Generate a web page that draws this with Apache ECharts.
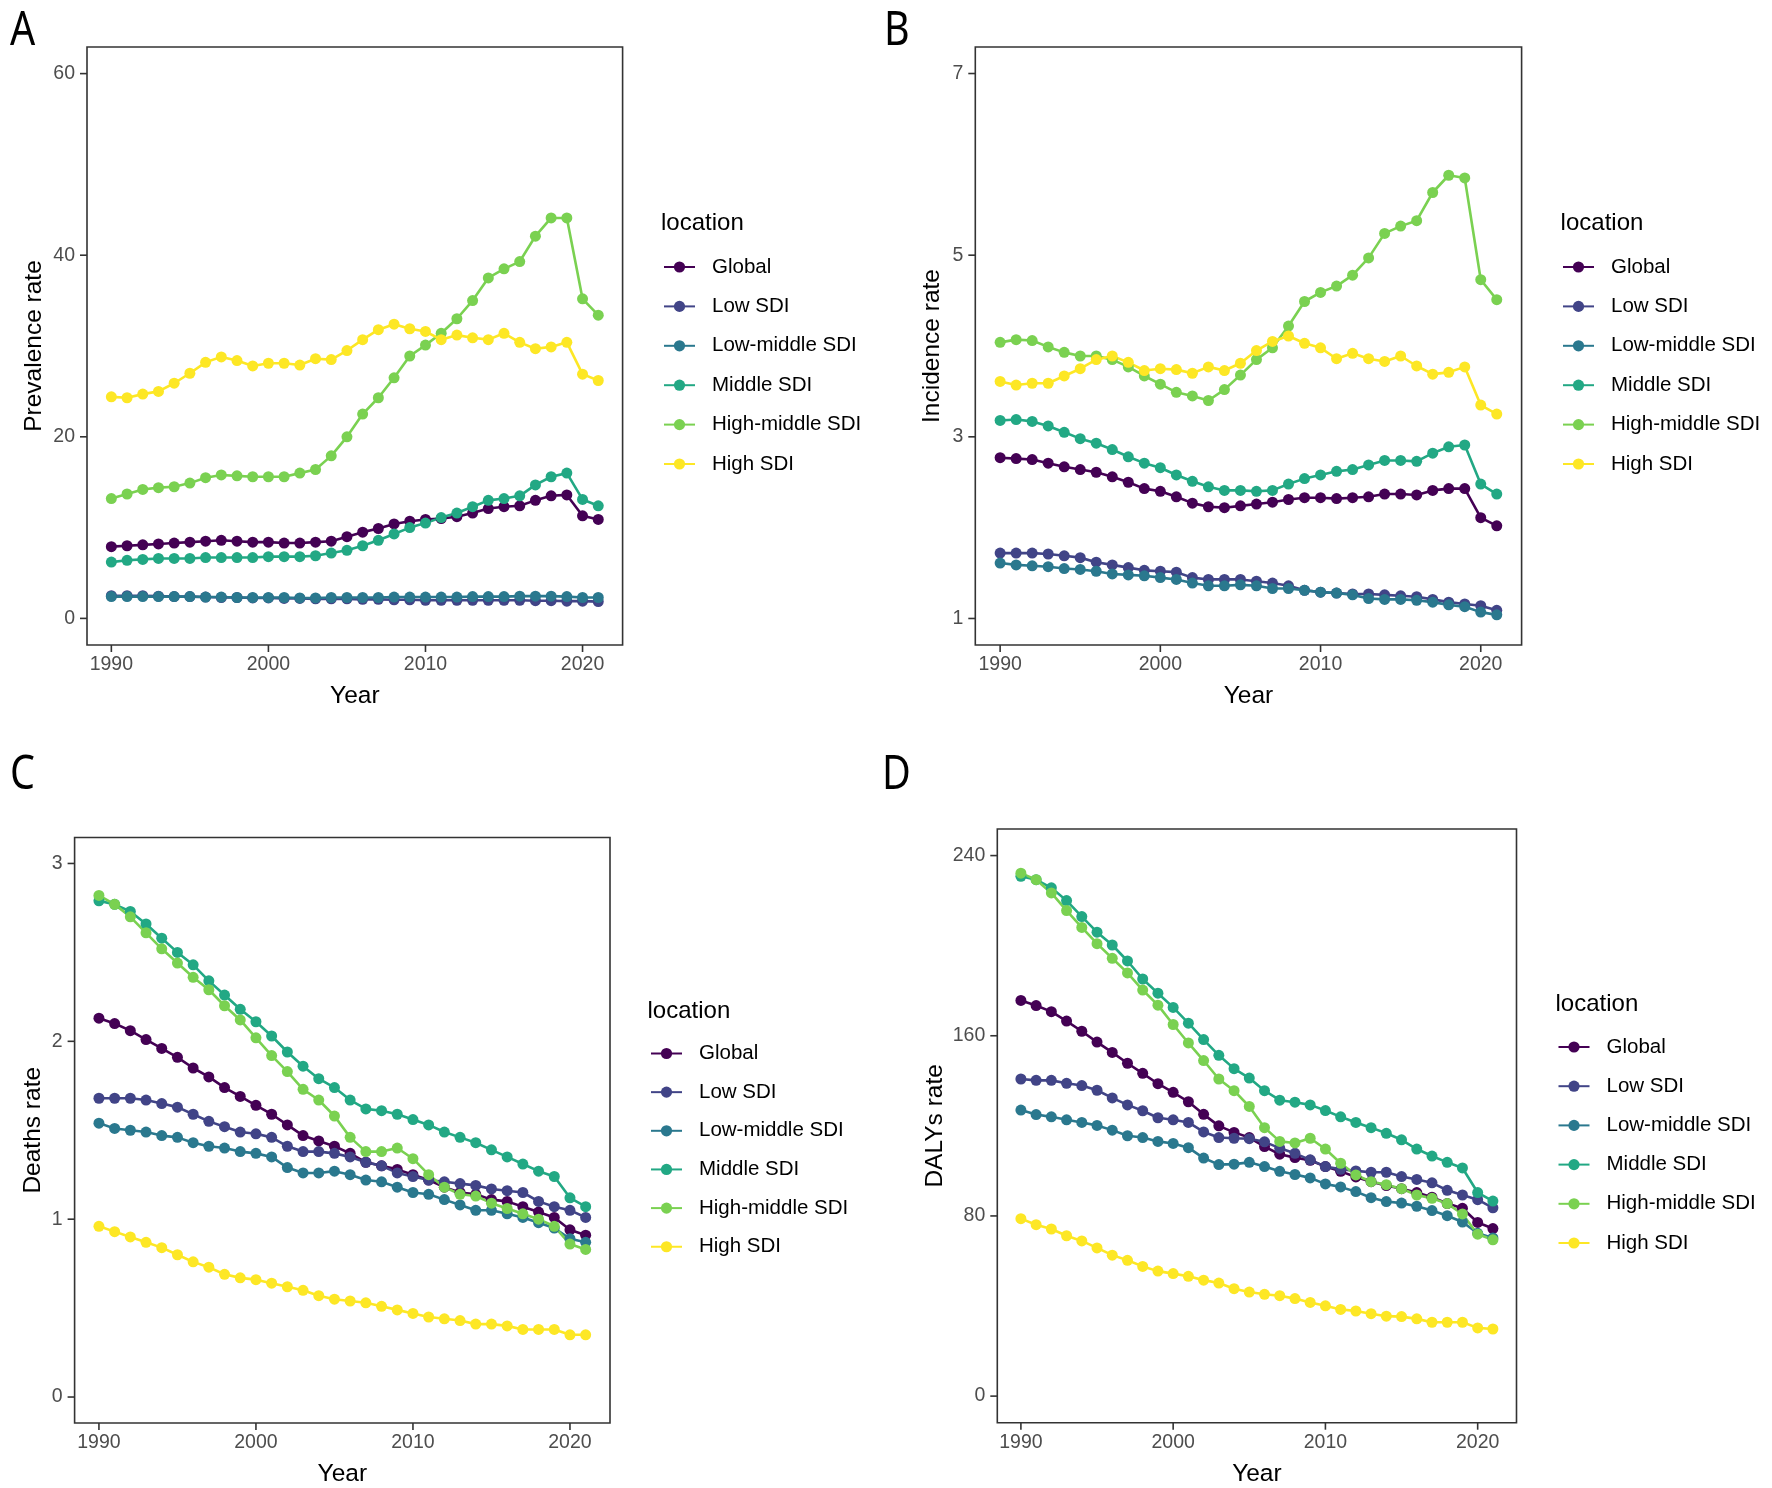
<!DOCTYPE html>
<html><head><meta charset="utf-8">
<style>html,body{margin:0;padding:0;background:#fff}#c{width:1772px;height:1488px}</style>
<script src="https://cdn.jsdelivr.net/npm/echarts@6/dist/echarts.min.js"></script>
</head><body><div id="c"></div>
<script>
const years=[1990,1991,1992,1993,1994,1995,1996,1997,1998,1999,2000,2001,2002,2003,2004,2005,2006,2007,2008,2009,2010,2011,2012,2013,2014,2015,2016,2017,2018,2019,2020,2021];
const locations=["Global","Low SDI","Low-middle SDI","Middle SDI","High-middle SDI","High SDI"];
const xTicks=[1990,2000,2010,2020];

const prevGlobal=[7.9,8.0,8.1,8.2,8.3,8.4,8.5,8.6,8.5,8.4,8.4,8.3,8.3,8.4,8.5,9.0,9.5,9.9,10.4,10.7,10.9,11.0,11.2,11.6,12.1,12.3,12.4,13.0,13.5,13.6,11.3,10.9];
const prevLow=[2.5,2.5,2.5,2.45,2.4,2.4,2.35,2.3,2.3,2.25,2.25,2.2,2.2,2.15,2.15,2.15,2.1,2.1,2.05,2.05,2.0,2.0,2.0,2.0,2.0,2.0,2.0,1.95,1.95,1.9,1.9,1.85];
const prevLowMid=[2.4,2.4,2.4,2.4,2.4,2.4,2.35,2.35,2.3,2.3,2.3,2.3,2.25,2.25,2.3,2.3,2.3,2.3,2.35,2.35,2.35,2.35,2.35,2.4,2.4,2.4,2.45,2.45,2.45,2.4,2.3,2.3];
const prevMid=[6.2,6.4,6.5,6.6,6.6,6.6,6.7,6.7,6.7,6.7,6.8,6.8,6.8,6.9,7.2,7.5,8.0,8.6,9.3,10.0,10.5,11.1,11.6,12.3,13.0,13.2,13.5,14.7,15.6,16.0,13.1,12.4];
const prevHighMid=[13.2,13.7,14.2,14.4,14.5,14.9,15.5,15.8,15.7,15.6,15.6,15.6,16.0,16.4,17.9,20.0,22.5,24.3,26.5,28.9,30.1,31.4,33.0,35.0,37.5,38.5,39.3,42.1,44.1,44.1,35.2,33.4];
const prevHigh=[24.4,24.3,24.7,25.0,25.9,27.0,28.2,28.8,28.4,27.8,28.1,28.1,27.9,28.6,28.5,29.5,30.7,31.8,32.4,31.9,31.6,30.7,31.2,30.9,30.7,31.4,30.4,29.7,29.9,30.4,26.9,26.2];

const incGlobal=[2.77,2.76,2.75,2.71,2.67,2.64,2.61,2.56,2.50,2.43,2.40,2.34,2.27,2.23,2.22,2.24,2.26,2.28,2.31,2.33,2.33,2.32,2.33,2.34,2.37,2.37,2.36,2.41,2.43,2.43,2.11,2.02];
const incLow=[1.72,1.72,1.72,1.71,1.69,1.67,1.62,1.59,1.56,1.53,1.52,1.51,1.45,1.43,1.43,1.43,1.41,1.39,1.36,1.31,1.29,1.28,1.27,1.27,1.26,1.25,1.24,1.21,1.18,1.16,1.14,1.09];
const incLowMid=[1.61,1.59,1.58,1.57,1.55,1.54,1.52,1.49,1.48,1.47,1.45,1.43,1.39,1.36,1.36,1.37,1.36,1.33,1.33,1.31,1.29,1.28,1.26,1.22,1.21,1.21,1.20,1.18,1.15,1.13,1.07,1.04];
const incMid=[3.18,3.19,3.17,3.12,3.05,2.98,2.93,2.86,2.78,2.71,2.66,2.58,2.51,2.45,2.41,2.41,2.40,2.41,2.48,2.54,2.58,2.62,2.64,2.69,2.74,2.74,2.73,2.82,2.89,2.91,2.48,2.37];
const incHighMid=[4.04,4.07,4.06,3.99,3.93,3.89,3.89,3.85,3.77,3.67,3.58,3.49,3.45,3.40,3.52,3.68,3.85,3.98,4.22,4.49,4.59,4.66,4.78,4.97,5.24,5.32,5.38,5.69,5.88,5.85,4.73,4.51];
const incHigh=[3.61,3.57,3.59,3.59,3.67,3.75,3.85,3.89,3.82,3.73,3.75,3.74,3.70,3.77,3.73,3.81,3.95,4.05,4.11,4.03,3.98,3.86,3.92,3.86,3.83,3.89,3.78,3.69,3.71,3.77,3.35,3.25];

const deathGlobal=[2.13,2.10,2.06,2.01,1.96,1.91,1.85,1.80,1.74,1.69,1.64,1.59,1.53,1.47,1.44,1.41,1.37,1.32,1.30,1.28,1.25,1.22,1.18,1.15,1.14,1.11,1.10,1.07,1.04,1.01,0.94,0.91];
const deathLow=[1.68,1.68,1.68,1.67,1.65,1.63,1.59,1.55,1.52,1.49,1.48,1.46,1.41,1.38,1.38,1.37,1.35,1.32,1.30,1.26,1.24,1.22,1.21,1.20,1.19,1.17,1.16,1.15,1.10,1.07,1.05,1.01];
const deathLowMid=[1.54,1.51,1.50,1.49,1.47,1.46,1.43,1.41,1.40,1.38,1.37,1.35,1.29,1.26,1.26,1.27,1.25,1.22,1.21,1.18,1.15,1.14,1.11,1.08,1.05,1.05,1.03,1.01,0.98,0.95,0.89,0.87];
const deathMid=[2.79,2.77,2.73,2.66,2.58,2.50,2.43,2.34,2.26,2.18,2.11,2.03,1.94,1.86,1.79,1.74,1.67,1.62,1.61,1.59,1.56,1.53,1.49,1.46,1.43,1.39,1.35,1.31,1.27,1.24,1.12,1.07];
const deathHighMid=[2.82,2.77,2.70,2.61,2.52,2.44,2.36,2.29,2.20,2.12,2.02,1.92,1.83,1.73,1.67,1.58,1.46,1.38,1.38,1.40,1.34,1.25,1.18,1.14,1.13,1.09,1.06,1.03,1.00,0.96,0.86,0.83];
const deathHigh=[0.96,0.93,0.90,0.87,0.84,0.80,0.76,0.73,0.69,0.67,0.66,0.64,0.62,0.60,0.57,0.55,0.54,0.53,0.51,0.49,0.47,0.45,0.44,0.43,0.41,0.41,0.40,0.38,0.38,0.38,0.35,0.35];

const dalyGlobal=[175.7,173.4,170.7,166.5,162,157.2,152.6,147.8,143.3,138.7,134.9,130.7,125.1,120,117.1,114.8,110.8,107.4,105.9,104.7,101.9,99.8,97.3,95.2,93.5,92.1,90.4,88.3,85.5,83.4,77.1,74.4];
const dalyLow=[140.8,140.2,140.2,138.9,137.9,135.8,132.4,129.3,126.7,123.6,122.7,121.5,117.3,114.8,114.5,114.3,112.9,110.1,107.8,104.9,101.9,100.7,100,99.4,99.4,97.5,96.2,94.7,91.4,89.3,87.2,83.6];
const dalyLowMid=[127,125,124,122.7,121.5,120.2,118.1,115.6,114.8,113.1,112.2,110.3,105.7,102.8,103,103.8,101.9,99.8,98.4,96.9,94.2,92.9,90.8,88.1,86.4,85.7,84.3,82.4,80.1,77.3,72.3,70.2];
const dalyMid=[230.8,229.3,225.7,220,212.9,206,200.3,193.2,185.2,178.9,172.6,165.6,158.3,151.3,145.4,141.2,135.6,131.4,130.5,129.3,126.8,124,121.5,119.2,116.7,113.8,109.7,106.6,103.8,101.3,90.4,86.6];
const dalyHighMid=[232.2,229.3,223.4,215.6,208.1,200.9,194.4,187.9,180.3,173.6,165,156.8,149,140.8,135.6,128.6,119.2,113.1,112.4,114.5,109.7,103.4,98.2,95.2,93.9,92.1,89.3,87.8,85.5,80.9,71.9,69.4];
const dalyHigh=[78.8,76.1,74.2,71.2,68.9,65.8,62.6,60.3,57.6,55.5,54.4,53.2,51.5,50.2,47.7,46.2,45.2,44.6,43.3,41.6,40.1,38.5,37.8,36.6,35.5,35.3,34.3,32.8,32.8,32.8,30.3,29.8];

const colors=["#440154","#414487","#2A788E","#22A884","#7AD151","#FDE725"];
const FONT="Liberation Sans";
const panels=[
 {letter:"A",lx:10,ly:13,yName:"Prevalence rate",ticks:[0,20,40,60],ymin:-2.93,ymax:62.93,series:[prevGlobal,prevLow,prevLowMid,prevMid,prevHighMid,prevHigh],
  box:[87,622.6,47,645],ttl:[661,223],leg:[663,267],gap:39.4,nameGap:40},
 {letter:"B",lx:884,ly:13,yName:"Incidence rate",ticks:[1,3,5,7],ymin:0.708,ymax:7.292,series:[incGlobal,incLow,incLowMid,incMid,incHighMid,incHigh],
  box:[975.3,1521.6,47,645],ttl:[1560.6,223],leg:[1562,267],gap:39.4,nameGap:31},
 {letter:"C",lx:10,ly:757,yName:"Deaths rate",ticks:[0,1,2,3],ymin:-0.146,ymax:3.146,series:[deathGlobal,deathLow,deathLowMid,deathMid,deathHighMid,deathHigh],
  box:[74.6,610,837.5,1424],ttl:[647.5,1011],leg:[650,1053.5],gap:38.65,nameGap:29},
 {letter:"D",lx:882,ly:757,yName:"DALYs rate",ticks:[0,80,160,240],ymin:-11.8,ymax:251.8,series:[dalyGlobal,dalyLow,dalyLowMid,dalyMid,dalyHighMid,dalyHigh],
  box:[997.3,1516.5,829,1422.7],ttl:[1555.5,1004],leg:[1557.5,1047],gap:39.2,nameGap:50}
];

const option={animation:false,backgroundColor:"#fff",color:colors,grid:[],xAxis:[],yAxis:[],series:[],legend:[],title:[],graphic:[]};
const tickMark=(i,data,size,offset)=>({type:"scatter",xAxisIndex:i,yAxisIndex:i,data,symbol:"rect",symbolSize:size,symbolOffset:offset,clip:false,silent:true,
  itemStyle:{color:"#333333",opacity:1},emphasis:{disabled:true},tooltip:{show:false}});
const XMIN=1988.45,XMAX=2022.55;
panels.forEach((p,i)=>{
  const [l,r,t,b]=p.box;
  option.grid.push({left:l,top:t,width:r-l,height:b-t,containLabel:false,show:true,borderColor:"#333333",borderWidth:1.6});
  option.xAxis.push({type:"value",gridIndex:i,position:"bottom",min:XMIN,max:XMAX,name:"Year",nameLocation:"middle",nameGap:39,
    nameTextStyle:{fontFamily:FONT,fontSize:24.5,color:"#000"},
    axisLine:{show:false,onZero:false},splitLine:{show:false},axisTick:{show:false},
    axisLabel:{show:true,customValues:xTicks,fontFamily:FONT,fontSize:19.5,color:"#4d4d4d",margin:10,formatter:v=>String(v)}});
  option.yAxis.push({type:"value",gridIndex:i,position:"left",min:p.ymin,max:p.ymax,name:p.yName,nameLocation:"middle",nameGap:p.nameGap,
    nameTextStyle:{fontFamily:FONT,fontSize:24.5,color:"#000"},
    axisLine:{show:false,onZero:false},splitLine:{show:false},axisTick:{show:false},
    axisLabel:{show:true,customValues:p.ticks,fontFamily:FONT,fontSize:19.5,color:"#4d4d4d",margin:12,padding:[4,0,0,0],formatter:v=>String(v)}});
  locations.forEach((name,k)=>{
    option.series.push({type:"line",name,xAxisIndex:i,yAxisIndex:i,data:years.map((y,j)=>[y,p.series[k][j]]),
      symbol:"circle",symbolSize:11,showSymbol:true,clip:false,
      lineStyle:{width:2.6,color:colors[k]},itemStyle:{color:colors[k]},emphasis:{disabled:true}});
  });
  option.series.push(tickMark(i,xTicks.map(v=>[v,p.ymin]),[1.6,7],[0,3.5]));
  option.series.push(tickMark(i,p.ticks.map(v=>[XMIN,v]),[7,1.6],[-3.5,0]));
  option.legend.push({orient:"vertical",left:p.leg[0],top:p.leg[1]-12,padding:0,itemWidth:31,itemHeight:14,itemGap:p.gap-24,
    data:locations,selectedMode:false,
    textStyle:{fontFamily:FONT,fontSize:20.5,color:"#000",lineHeight:24,height:24,padding:[0,0,0,12]}});
  option.title.push({text:"location",left:p.ttl[0],top:p.ttl[1]-14,padding:0,textStyle:{fontFamily:FONT,fontSize:24,fontWeight:"normal",color:"#000",lineHeight:28}});
  option.graphic.push({type:"text",x:p.lx,y:p.ly-6,scaleX:0.84,style:{text:p.letter,font:'47px "Noto Sans"',fill:"#000",lineHeight:50,verticalAlign:"top"}});
});
echarts.init(document.getElementById("c"),null,{renderer:"canvas"}).setOption(option);
</script></body></html>
